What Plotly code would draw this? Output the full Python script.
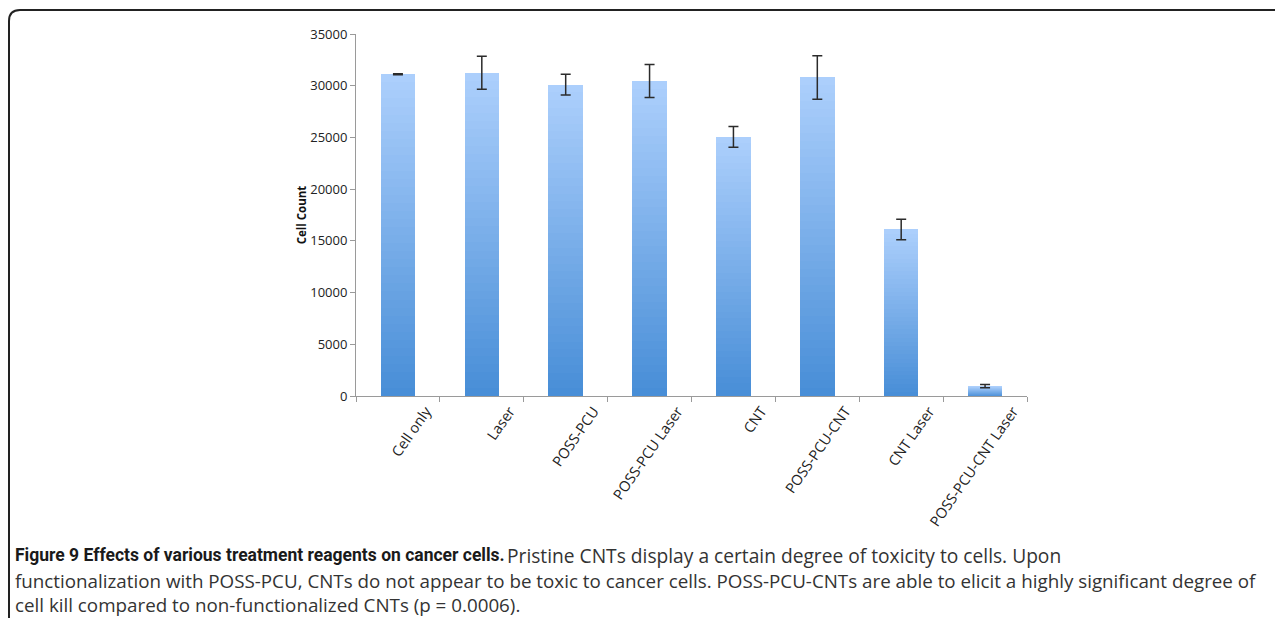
import plotly.graph_objects as go

categories = ["Cell only", "Laser", "POSS-PCU", "POSS-PCU Laser", "CNT",
              "POSS-PCU-CNT", "CNT Laser", "POSS-PCU-CNT Laser"]
cell_count = [31100, 31250, 30100, 30450, 25050, 30800, 16100, 950]
error = [50, 1600, 1000, 1600, 1000, 2100, 1000, 150]
y_ticks = [0, 5000, 10000, 15000, 20000, 25000, 30000, 35000]
y_tick_text = [str(v) for v in y_ticks]

OFF = 8  # page body margin
W, H = 1283 - OFF, 618 - OFF
L, R, T, B = 356 - OFF, 1027 - OFF, 34 - OFF, 396 - OFF

top_rgb = (172, 207, 252)
bot_rgb = (72, 142, 215)
N = 40

fig = go.Figure()
for k in range(N):
    f = k / (N - 1)
    c = tuple(round(bot_rgb[i] + (top_rgb[i] - bot_rgb[i]) * f) for i in range(3))
    fig.add_trace(go.Bar(
        x=categories, y=[v / N for v in cell_count],
        marker=dict(color="rgb(%d,%d,%d)" % c, line=dict(width=0)),
        width=0.41, showlegend=False, hoverinfo="skip"))

fig.add_trace(go.Scatter(
    x=categories, y=cell_count, mode="markers",
    marker=dict(size=0.1, color="rgba(0,0,0,0)"),
    error_y=dict(type="data", array=error, color="#2b2b2b", thickness=1.5, width=5),
    showlegend=False))

def px(x):  # screen pixel -> paper x
    return (x - OFF - L) / (R - L)

def py(y):  # screen pixel -> paper y
    return (B - (y - OFF)) / (B - T)

reg = dict(family="Open Sans", size=18.8, color="#333333")
annotations = [
    dict(text="<b>Figure 9 Effects of various treatment reagents on cancer cells.</b>",
         x=px(13), y=py(555),
         font=dict(family="Roboto", size=17.5, color="#1a1a1a")),
    dict(text="Pristine CNTs display a certain degree of toxicity to cells. Upon",
         x=px(505), y=py(555), font=dict(family="Open Sans", size=19.2, color="#333333")),
    dict(text="functionalization with POSS-PCU, CNTs do not appear to be toxic to cancer cells. POSS-PCU-CNTs are able to elicit a highly significant degree of",
         x=px(13), y=py(581), font=reg),
    dict(text="cell kill compared to non-functionalized CNTs (p = 0.0006).",
         x=px(13), y=py(605), font=reg),
]
for a in annotations:
    a.update(xref="paper", yref="paper", xanchor="left", yanchor="middle",
             showarrow=False)

# frame with rounded top-left corner
fx, fy = px(9), py(10)
path = (f"M {fx},{py(640)} L {fx},{py(21)} "
        f"Q {fx},{fy} {px(20)},{fy} L {px(1300)},{fy}")
shapes = [dict(type="path", xref="paper", yref="paper", path=path,
               line=dict(color="#222222", width=2))]

fig.update_layout(
    width=W, height=H,
    margin=dict(l=L, r=W - R, t=T, b=H - B, pad=0),
    paper_bgcolor="white", plot_bgcolor="white",
    barmode="stack", bargap=0.59,
    font=dict(family="Open Sans", size=12, color="#222222"),
    xaxis=dict(type="category", showline=True, linecolor="#9a9a9a", linewidth=1,
               ticks="outside", tickson="boundaries", ticklen=5, tickcolor="#9a9a9a",
               tickangle=-55, ticklabelshift=28, tickfont=dict(size=14.5, color="#222222"),
               showgrid=False, range=[-0.5, 7.5]),
    yaxis=dict(range=[0, 35000], tickvals=y_ticks, ticktext=y_tick_text,
               showline=True, linecolor="#9a9a9a",
               linewidth=1, ticks="outside", ticklen=5, tickcolor="#9a9a9a",
               showgrid=False, zeroline=False, tickfont=dict(size=13, color="#222222"),
               title=dict(text="<b>Cell Count</b>", font=dict(size=11.5, color="#111111"),
                          standoff=1)),
    annotations=annotations,
    shapes=shapes,
)

fig.write_html("out.html")
